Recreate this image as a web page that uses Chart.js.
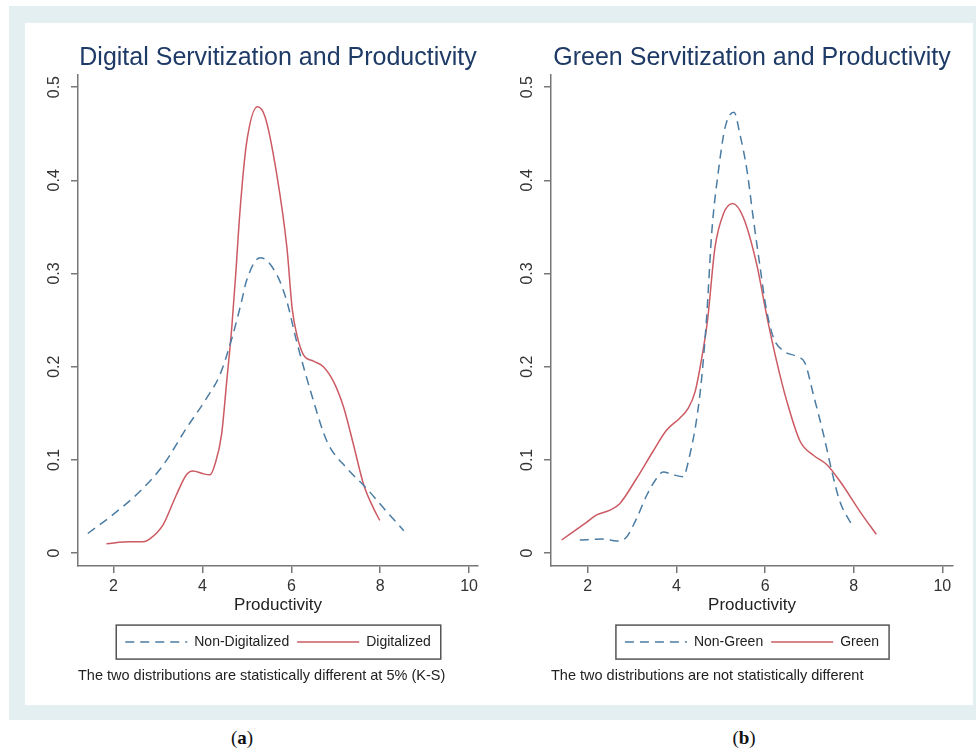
<!DOCTYPE html>
<html>
<head>
<meta charset="utf-8">
<script src="https://cdn.jsdelivr.net/npm/chart.js@4.4.1/dist/chart.umd.min.js"></script>
<style>
  body { margin: 0; background: #fff; width: 976px; height: 753px; position: relative; overflow: hidden; font-family: "Liberation Sans", Arial, sans-serif; }
  #frame { position: absolute; left: 9px; top: 6px; width: 967px; height: 714px; background: #e4eff1; }
  #inner { position: absolute; left: 25px; top: 23px; width: 948px; height: 682px; background: #fff; }
  .box { position: absolute; top: 23px; height: 682px; }
  #boxA { left: 25px; width: 465px; }
  #boxB { left: 490px; width: 483px; }
  .cap { position: absolute; top: 727px; font-family: "Liberation Serif", "DejaVu Serif", serif; font-size: 19px; color: #111; transform: translateX(-50%); }
</style>
</head>
<body>
<div id="frame"></div>
<div id="inner"></div>
<div class="box" id="boxA"><canvas id="chartA"></canvas></div>
<div class="box" id="boxB"><canvas id="chartB"></canvas></div>
<div class="cap" style="left:242px">(<b>a</b>)</div>
<div class="cap" style="left:744px">(<b>b</b>)</div>
<script>
// ticks
const xTicks = [2, 4, 6, 8, 10];
const yTicks = [0, 0.1, 0.2, 0.3, 0.4, 0.5];

// (a) digital servitization
const nonDigitalX = [1.42, 1.98, 2.59, 3.11, 3.64, 4.09, 4.39, 4.69, 4.88, 4.99, 5.30, 5.67, 5.90, 6.12, 6.50, 6.80, 7.25, 7.70, 8.08, 8.53];
const nonDigitalY = [0.021, 0.041, 0.066, 0.094, 0.134, 0.166, 0.191, 0.235, 0.270, 0.292, 0.317, 0.299, 0.270, 0.227, 0.163, 0.120, 0.091, 0.069, 0.048, 0.024];
const digitalX = [1.84, 2.36, 2.66, 2.81, 3.11, 3.41, 3.64, 3.79, 4.02, 4.17, 4.28, 4.43, 4.54, 4.66, 4.75, 4.84, 4.99, 5.24, 5.41, 5.67, 5.90, 6.02, 6.12, 6.27, 6.50, 6.72, 6.95, 7.18, 7.40, 7.63, 7.85, 7.99];
const digitalY = [0.010, 0.012, 0.012, 0.015, 0.030, 0.062, 0.084, 0.088, 0.085, 0.084, 0.095, 0.127, 0.181, 0.242, 0.300, 0.364, 0.439, 0.479, 0.468, 0.407, 0.328, 0.262, 0.235, 0.213, 0.206, 0.200, 0.184, 0.156, 0.116, 0.073, 0.048, 0.035];

// (b) green servitization
const nonGreenX = [1.82, 2.35, 2.65, 2.87, 3.10, 3.33, 3.55, 3.70, 3.93, 4.15, 4.30, 4.46, 4.57, 4.68, 4.80, 4.95, 5.10, 5.30, 5.43, 5.59, 5.74, 5.89, 6.02, 6.19, 6.41, 6.71, 6.90, 7.09, 7.32, 7.51, 7.69, 7.96];
const nonGreenY = [0.014, 0.015, 0.013, 0.017, 0.037, 0.062, 0.080, 0.087, 0.084, 0.082, 0.105, 0.145, 0.188, 0.252, 0.346, 0.411, 0.457, 0.473, 0.450, 0.411, 0.357, 0.306, 0.264, 0.231, 0.217, 0.211, 0.204, 0.170, 0.127, 0.087, 0.055, 0.030];
const greenX = [1.41, 1.97, 2.20, 2.50, 2.72, 3.10, 3.47, 3.78, 4.08, 4.26, 4.42, 4.57, 4.70, 4.87, 5.06, 5.27, 5.51, 5.81, 6.04, 6.26, 6.49, 6.79, 7.09, 7.39, 7.69, 8.15, 8.51];
const greenY = [0.014, 0.033, 0.041, 0.046, 0.053, 0.080, 0.109, 0.132, 0.145, 0.155, 0.173, 0.209, 0.249, 0.328, 0.364, 0.375, 0.360, 0.310, 0.254, 0.206, 0.163, 0.120, 0.105, 0.095, 0.077, 0.044, 0.020];

const blue = '#4b7ca3';
const red = '#cc5a63';
const axisGrey = '#777';

Chart.defaults.font.family = '"Liberation Sans", Arial, sans-serif';
Chart.defaults.color = '#333';

function points(xs, ys) {
    return xs.map((x, i) => ({ x: x, y: ys[i] }));
}

// frame round the legend, like Stata does
const legendFrame = {
    id: 'legendFrame',
    afterDraw(chart) {
        const boxes = chart.legend.legendHitBoxes;
        if (!boxes || !boxes.length) return;
        const left = Math.min(...boxes.map(b => b.left)) - 9;
        const right = Math.max(...boxes.map(b => b.left + b.width)) + 10;
        const mid = boxes[0].top + boxes[0].height / 2;
        const ctx = chart.ctx;
        ctx.save();
        ctx.strokeStyle = '#555';
        ctx.lineWidth = 1.5;
        ctx.strokeRect(left, mid - 17, right - left, 34);
        ctx.restore();
    }
};

// legend items take the dataset's dash, not the point's
function legendLabels(chart) {
    return Chart.defaults.plugins.legend.labels.generateLabels(chart).map((item, i) => {
        const ds = chart.data.datasets[i];
        item.lineDash = ds.borderDash || [];
        item.lineWidth = ds.borderWidth;
        item.strokeStyle = ds.borderColor;
        return item;
    });
}

function makeChart(id, cfg) {
    return new Chart(document.getElementById(id), {
        type: 'line',
        data: {
            datasets: [{
                label: cfg.labels[0],
                data: points(cfg.dashX, cfg.dashY),
                borderColor: blue,
                borderWidth: 1.5,
                borderDash: [9, 6],
                pointRadius: 0,
                fill: false,
                cubicInterpolationMode: 'monotone'
            }, {
                label: cfg.labels[1],
                data: points(cfg.solidX, cfg.solidY),
                borderColor: red,
                borderWidth: 1.5,
                pointRadius: 0,
                fill: false,
                cubicInterpolationMode: 'monotone'
            }]
        },
        options: {
            responsive: true,
            maintainAspectRatio: false,
            animation: false,
            layout: { padding: { left: 0, right: cfg.padRight, top: 0, bottom: 20 } },
            plugins: {
                title: {
                    display: true,
                    text: cfg.title,
                    fullSize: false,
                    color: '#1e3a66',
                    font: { size: 25, weight: 'normal' },
                    padding: { top: 20, bottom: 2 }
                },
                subtitle: {
                    display: true,
                    text: cfg.note,
                    position: 'bottom',
                    align: 'start',
                    fullSize: false,
                    color: '#222',
                    font: { size: 14.5 },
                    padding: { top: 8.5, bottom: 0 }
                },
                legend: {
                    position: 'bottom',
                    fullSize: false,
                    labels: {
                        usePointStyle: true,
                        pointStyle: 'line',
                        pointStyleWidth: 62,
                        padding: 8,
                        color: '#222',
                        font: { size: 14 },
                        generateLabels: legendLabels
                    }
                },
                tooltip: { enabled: false }
            },
            scales: {
                x: {
                    type: 'linear',
                    min: cfg.xMin,
                    max: cfg.xMax,
                    afterBuildTicks: s => { s.ticks = xTicks.map(v => ({ value: v })); },
                    afterFit: s => { s.height = 61; },
                    grid: { drawOnChartArea: false, drawTicks: true, tickLength: 7, color: axisGrey, lineWidth: 1.5 },
                    border: { display: true, color: axisGrey, width: 1.5 },
                    ticks: { font: { size: 16 }, padding: 4, color: '#333' },
                    title: { display: true, text: 'Productivity', font: { size: 17 }, color: '#222', padding: { top: 0, bottom: 12 } }
                },
                y: {
                    min: -0.014,
                    max: 0.513,
                    afterBuildTicks: s => { s.ticks = yTicks.map(v => ({ value: v })); },
                    afterFit: s => { s.width = cfg.yWidth; },
                    grid: { drawOnChartArea: false, drawTicks: true, tickLength: 7, color: axisGrey, lineWidth: 1.5 },
                    border: { display: true, color: axisGrey, width: 1.5 },
                    ticks: {
                        font: { size: 16 },
                        color: '#333',
                        minRotation: 90,
                        maxRotation: 90,
                        crossAlign: 'center',
                        padding: 5,
                        callback: v => String(v)
                    }
                }
            }
        },
        plugins: [legendFrame]
    });
}

makeChart('chartA', {
    title: 'Digital Servitization and Productivity',
    note: 'The two distributions are statistically different at 5% (K-S)',
    labels: ['Non-Digitalized', 'Digitalized'],
    dashX: nonDigitalX, dashY: nonDigitalY,
    solidX: digitalX, solidY: digitalY,
    xMin: 1.2, xMax: 10.2,
    yWidth: 53, padRight: 12
});

makeChart('chartB', {
    title: 'Green Servitization and Productivity',
    note: 'The two distributions are not statistically different',
    labels: ['Non-Green', 'Green'],
    dashX: nonGreenX, dashY: nonGreenY,
    solidX: greenX, solidY: greenY,
    xMin: 1.17, xMax: 10.24,
    yWidth: 61, padRight: 20
});
</script>
</body>
</html>
